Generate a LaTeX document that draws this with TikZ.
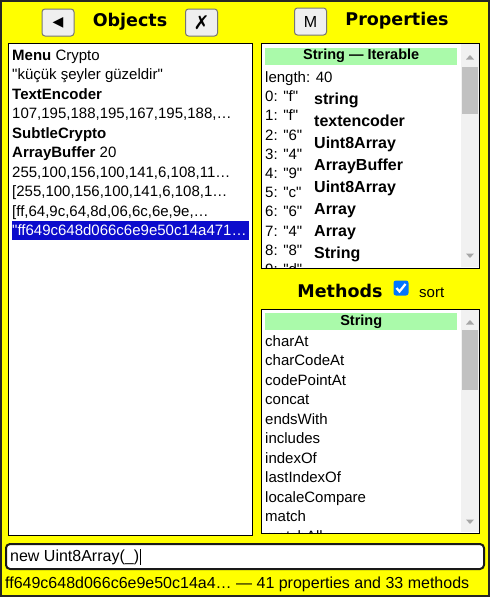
\documentclass[tikz,border=0pt]{standalone}
\usepackage{fontspec}
\setmainfont{Liberation Sans}[Ligatures=TeXOff]
\newfontfamily\dejavu{DejaVu Sans}
\definecolor{uiyellow}{RGB}{255,255,0}
\definecolor{hdrgreen}{RGB}{170,250,170}
\definecolor{selblue}{RGB}{12,12,204}
\definecolor{sbtrack}{RGB}{241,241,241}
\definecolor{sbthumb}{RGB}{193,193,193}
\definecolor{btnfill}{RGB}{239,239,239}
\definecolor{btnline}{RGB}{118,118,118}
\definecolor{checkblue}{RGB}{0,117,255}
\tikzset{
    panel/.style={draw=black, line width=1pt, fill=white, anchor=north west, inner sep=0pt},
    btn/.style={draw=btnline, fill=btnfill, rounded corners=3pt, line width=1pt,
        minimum width=32pt, minimum height=27pt, inner sep=0pt},
    heading/.style={font=\dejavu\bfseries\fontsize{17.5}{20}\selectfont, inner sep=0pt},
    hdrbar/.style={fill=hdrgreen, anchor=north west, minimum width=192pt, minimum height=17pt,
        inner sep=0pt, font=\bfseries\fontsize{14.5}{17}\selectfont},
    txt/.style={anchor=base west, inner sep=0pt, font=\fontsize{15}{18}\selectfont},
    typename/.style={anchor=base west, inner sep=0pt, font=\bfseries\fontsize{16}{19}\selectfont}
}
\begin{document}
\begin{tikzpicture}[x=1pt, y=-1pt]
                                \useasboundingbox (0,0) rectangle (490,597);
                                \fill[uiyellow] (0,0) rectangle (490,597);
                                \draw[line width=2pt, black!85] (1,1) rectangle (489,596);
                                % header row
                                \node[btn] (back) at (58,22.5) {\dejavu\fontsize{14}{16}\selectfont ◀};
                                \node[heading] (objects) at (130,22) {Objects};
                                \node[btn] (close) at (201.5,22.5) {\dejavu\fontsize{19}{20}\selectfont ✗};
                                \node[btn] (mbtn) at (310.5,21.5) {\fontsize{16}{18}\selectfont M};
                                \node[heading] (props) at (397,21) {Properties};
                                % objects list
                                \node[panel, minimum width=244pt, minimum height=492pt] (objlist) at (8,43) {};
                                \fill[selblue] (12,221) rectangle (249,239.5);
                                \foreach \t [count=\i from 0] in {{\textbf{Menu} Crypto}, "küçük şeyler güzeldir",
                                    \textbf{TextEncoder}, {107,195,188,195,167,195,188,…}, \textbf{SubtleCrypto},
                                    {\textbf{ArrayBuffer} 20}, {255,100,156,100,141,6,108,11…},
                                    {[255,100,156,100,141,6,108,1…}, {[ff,64,9c,64,8d,06,6c,6e,9e,…}}
                                    \node[txt] (obj\i) at (12,{60+19.5*\i}) {\t};
                                \node[txt, text=white] (obj9) at (12,235.5) {"ff649c648d066c6e9e50c14a471…};
                                % properties list
                                \node[panel, minimum width=218pt, minimum height=225pt] (proplist) at (261,43) {};
                                \fill[sbtrack] (461,44) rectangle (479,267);
                                \fill[sbthumb] (462,67) rectangle (478,114);
                                \node[hdrbar] (prophdr) at (265,47.5) {String — Iterable};
                                \begin{scope}
                                    \clip (262,44) rectangle (460,267.5);
                                    \node[txt] (plen) at (265,82.4) {length: 40};
                                    \foreach \c [count=\i from 0] in {f,f,6,4,9,c,6,4,8,d}
                                        \node[txt] (pidx\i) at (265,{101.6+19.2*\i}) {\i: "\c"};
                                    \foreach \t [count=\i from 0] in {string,textencoder,Uint8Array,ArrayBuffer,
                                        Uint8Array,Array,Array,String}
                                        \node[typename] (ptype\i) at (314,{104.7+21.9*\i}) {\t};
                                \end{scope}
                                % methods list
                                \node[heading] (methods) at (340,291) {Methods};
                                \node[fill=checkblue, rounded corners=2.5pt, minimum size=15pt, inner sep=0pt] (sortbox) at (401,288) {};
                                \draw[white, line width=2.2pt] ([shift={(-4.5,0)}]sortbox.center) -- ([shift={(-1.5,3.5)}]sortbox.center)
                                    -- ([shift={(4.5,-4)}]sortbox.center);
                                \node[txt] (sort) at (419,297) {sort};
                                \node[panel, minimum width=218pt, minimum height=224pt] (methlist) at (261,309) {};
                                \fill[sbtrack] (461,310) rectangle (479,532);
                                \fill[sbthumb] (462,330) rectangle (478,390);
                                \node[hdrbar] (methhdr) at (265,313) {String};
                                \begin{scope}
                                    \clip (262,310) rectangle (460,532.5);
                                    \foreach \t [count=\i from 0] in {charAt,charCodeAt,codePointAt,concat,endsWith,
                                        includes,indexOf,lastIndexOf,localeCompare,match,matchAll}
                                        \node[txt] (meth\i) at (265,{346.4+19.5*\i}) {\t};
                                \end{scope}
                                % scroll arrows
                                \foreach \y in {57,322}
                                    \fill[black!35] (466,{\y+2.5}) -- (474,{\y+2.5}) -- (470,{\y-2}) -- cycle;
                                \foreach \y in {256,522}
                                    \fill[black!35] (466,{\y-2.5}) -- (474,{\y-2.5}) -- (470,{\y+2}) -- cycle;
                                % input and status
                                \node[draw=black!90, line width=2pt, rounded corners=4pt, fill=white, anchor=north west,
                                    minimum width=478pt, minimum height=25pt, inner sep=0pt] (input) at (5,543) {};
                                \node[txt, font=\fontsize{16}{19}\selectfont] (cmd) at (10,561) {new Uint8Array(\_)};
                                \draw[line width=1pt] ([xshift=1.5pt]cmd.north east) -- ([xshift=1.5pt]cmd.south east);
                                \node[txt, font=\fontsize{16}{19}\selectfont] (status) at (5,588)
                                    {ff649c648d066c6e9e50c14a4… — 41 properties and 33 methods};
                            \end{tikzpicture}
\end{document}
